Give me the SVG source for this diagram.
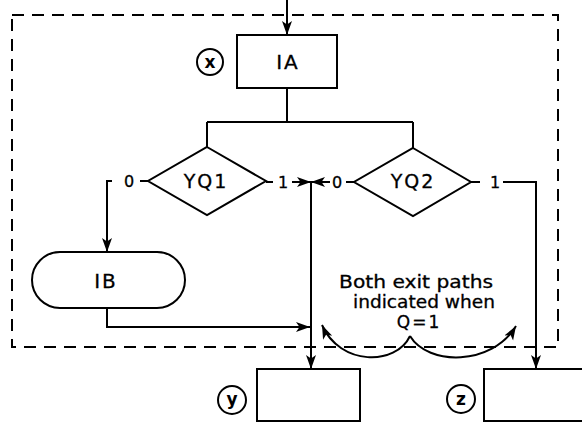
<svg xmlns="http://www.w3.org/2000/svg" width="582" height="423" viewBox="0 0 582 423">
<style>
.s{fill:none;stroke:#000;stroke-width:2}
.n{fill:#fff;stroke:#000;stroke-width:2}
.t{font-family:"DejaVu Sans","Liberation Sans",sans-serif;fill:#000;stroke:#000;stroke-width:0.3;text-anchor:middle}
.lbl{font-size:20px;letter-spacing:2px}
.d{font-size:16px}
.c{font-size:17px;font-weight:bold;stroke-width:0}
.note{font-size:17px}
.arr{marker-end:url(#ah)}
</style>
<defs>
<marker id="ah" markerUnits="userSpaceOnUse" markerWidth="15" markerHeight="11" refX="14" refY="5" orient="auto">
<path d="M0,0 L14,5 L0,10 L3.5,5 Z" fill="#000"/>
</marker>
</defs>
<g id="boundary">
<path d="M12,15 H558 V347 H12 Z" fill="none" stroke="#000" stroke-width="2" stroke-dasharray="12 8"/>
</g>
<g id="connectors">
<path class="s arr" d="M287,0 V35"/>
<path class="s" d="M287,88 V122 M207,122 H413 M207,122 V147 M413,122 V148"/>
<path class="s" d="M148,181 H140"/>
<path class="s arr" d="M112,181 H107 V252"/>
<path class="s" d="M266,182 H273"/>
<path class="s arr" d="M292,182 H311"/>
<path class="s arr" d="M330,182 H311"/>
<path class="s" d="M354,182 H346"/>
<path class="s arr" d="M311,181 V369"/>
<path class="s" d="M471,182 H480"/>
<path class="s arr" d="M503,182 H536 V369"/>
<path class="s arr" d="M107,308 V327 H310"/>
<path class="s arr" d="M410,336 C396,366 340,366 322,325"/>
<path class="s arr" d="M410,336 C428,366 492,366 516,326"/>
<text class="t d" x="129" y="187">0</text>
<text class="t d" x="283" y="188">1</text>
<text class="t d" x="337" y="188">0</text>
<text class="t d" x="495" y="188">1</text>
</g>
<g id="node-IA">
<rect class="n" x="237" y="35" width="100" height="53"/>
<text class="t lbl" x="288" y="69">IA</text>
</g>
<g id="tag-x">
<circle class="s" cx="210" cy="62" r="13"/>
<text class="t c" x="210" y="68">x</text>
</g>
<g id="node-YQ1">
<path class="n" d="M207,147 L266,181 L207,215 L148,181 Z"/>
<text class="t lbl" x="206" y="188" style="font-size:19px">YQ1</text>
</g>
<g id="node-YQ2">
<path class="n" d="M413,148 L471,182 L413,216 L354,182 Z"/>
<text class="t lbl" x="413" y="188" style="font-size:19px">YQ2</text>
</g>
<g id="node-IB">
<rect class="n" x="32" y="252" width="153" height="56" rx="28" ry="28"/>
<text class="t lbl" x="106" y="288">IB</text>
</g>
<g id="node-y">
<rect class="n" x="257" y="369" width="103" height="52"/>
</g>
<g id="tag-y">
<circle class="s" cx="232" cy="400" r="14"/>
<text class="t c" x="232" y="405">y</text>
</g>
<g id="node-z">
<rect class="n" x="484" y="369" width="110" height="52"/>
</g>
<g id="tag-z">
<circle class="s" cx="461" cy="399" r="14"/>
<text class="t c" x="461" y="405">z</text>
</g>
<g id="note">
<text class="t note" x="416" y="288" textLength="154" lengthAdjust="spacingAndGlyphs">Both exit paths</text>
<text class="t note" x="424" y="308" textLength="142" lengthAdjust="spacingAndGlyphs">indicated when</text>
<text class="t note" x="419" y="328" letter-spacing="2">Q=1</text>
</g>
</svg>
